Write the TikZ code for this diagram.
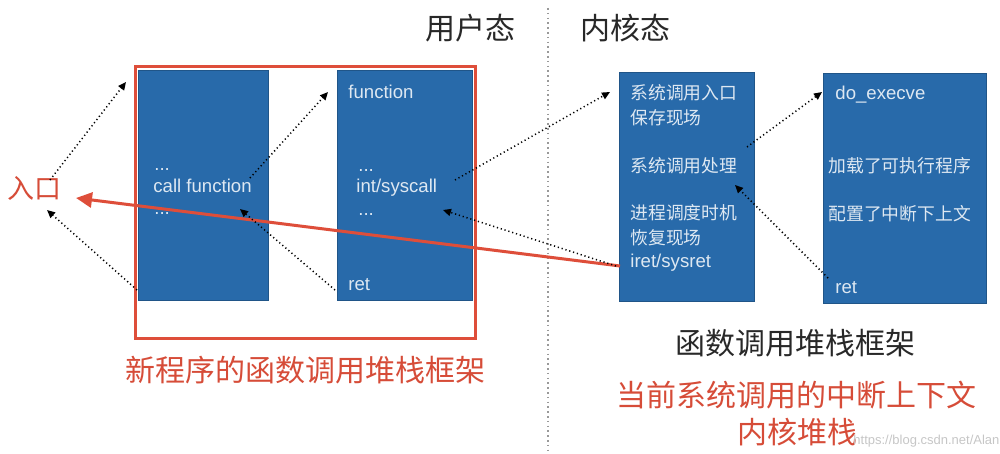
\documentclass[tikz,border=0pt]{standalone}
\usepackage{fontspec}
\setmainfont{Liberation Sans}
\newfontfamily\cjk{Noto Sans CJK SC}
\usetikzlibrary{arrows.meta}
\definecolor{boxblue}{RGB}{40,106,170}
\definecolor{boxtext}{RGB}{222,232,242}
\definecolor{redline}{RGB}{222,78,58}
\definecolor{redtext}{RGB}{214,76,56}
\definecolor{titletext}{RGB}{40,40,40}
\tikzset{
  stackbox/.style={fill=boxblue,draw=boxblue!80!black,line width=0.3pt,minimum width=#1,inner sep=0pt,outer sep=0pt},
  lat/.style={font=\fontsize{9.3}{11}\selectfont,text=boxtext,anchor=base west,inner sep=0pt},
  han/.style={font=\cjk\fontsize{8.9}{11}\selectfont,text=boxtext,anchor=west,inner sep=0pt},
  dotarrow/.style={draw=black,line width=0.75pt,dash pattern=on 0.6pt off 1.4pt,-{Triangle[length=4pt,width=3.6pt]}},
  bigarrow/.style={draw=redline,line width=1.5pt,-{Triangle[length=8pt,width=7.5pt]}},
  redframe/.style={draw=redline,line width=1.5pt},
  biglabel/.style={font=\cjk\fontsize{15}{18}\selectfont,inner sep=0pt},
}
\begin{document}
\begin{tikzpicture}[x=0.5pt,y=-0.5pt]
\useasboundingbox (0,0) rectangle (1000,454);
% divider
\coordinate (dtop) at (548,8);
\coordinate (dbot) at (548,454);
\draw[gray!80,line width=0.6pt,dash pattern=on 0.8pt off 1.6pt] (dtop) -- (dbot);
% titles
\node[biglabel,text=titletext] (user) at (470,28) {用户态};
\node[biglabel,text=titletext] (kern) at (625,28) {内核态};
% boxes
\node[stackbox=65pt,minimum height=115pt] (b1) at (203,185) {};
\node[stackbox=67.5pt,minimum height=115pt] (b2) at (404.5,185) {};
\node[stackbox=67.5pt,minimum height=114.5pt] (b3) at (686.5,186.5) {};
\node[stackbox=81.5pt,minimum height=115pt] (b4) at (904.5,188) {};
% box 1 text
\node[lat] (b1d1) at (154,171) {...};
\node[lat] (b1call) at (153,193) {call function};
\node[lat] (b1d2) at (154,214) {...};
% box 2 text
\node[lat] (b2fn) at (348,99) {function};
\node[lat] (b2d1) at (358,172) {...};
\node[lat] (b2sys) at (356,193) {int/syscall};
\node[lat] (b2d2) at (358,215) {...};
\node[lat] (b2ret) at (348,290) {ret};
% box 3 text
\node[han] (b3a) at (630,93) {系统调用入口};
\node[han] (b3b) at (630,118) {保存现场};
\node[han] (b3c) at (630,166) {系统调用处理};
\node[han] (b3d) at (630,213) {进程调度时机};
\node[han] (b3e) at (630,238) {恢复现场};
\node[lat] (b3f) at (630,267) {iret/sysret};
% box 4 text
\node[lat] (b4a) at (835,100) {do\_execve};
\node[han] (b4b) at (828,166) {加载了可执行程序};
\node[han] (b4c) at (828,214) {配置了中断下上文};
\node[lat] (b4d) at (835,293) {ret};
% entry label
\node[font=\cjk\fontsize{13.5}{16}\selectfont,text=redtext,inner sep=0pt] (entry) at (34,188) {入口};
% red frame
\coordinate (fa) at (135,67);
\coordinate (fb) at (475,338);
\draw[redframe] (fa) rectangle (fb);
% red arrow
\coordinate (rs) at (620,266);
\coordinate (re) at (76,198);
\draw[bigarrow] (rs) -- (re);
% dotted connectors
\coordinate (c1s) at (50,180); \coordinate (c1e) at (126,82);
\coordinate (c2s) at (137,290); \coordinate (c2e) at (47,210);
\coordinate (c3s) at (250,178); \coordinate (c3e) at (328,92);
\coordinate (c4s) at (335,290); \coordinate (c4e) at (240,209);
\coordinate (c5s) at (455,180); \coordinate (c5e) at (610,92);
\coordinate (c6s) at (616,266); \coordinate (c6e) at (443,210);
\coordinate (c7s) at (747,147); \coordinate (c7e) at (822,92);
\coordinate (c8s) at (828,278); \coordinate (c8e) at (735,185);
\draw[dotarrow] (c1s) -- (c1e);
\draw[dotarrow] (c2s) -- (c2e);
\draw[dotarrow] (c3s) -- (c3e);
\draw[dotarrow] (c4s) -- (c4e);
\draw[dotarrow] (c5s) -- (c5e);
\draw[dotarrow] (c6s) -- (c6e);
\draw[dotarrow] (c7s) -- (c7e);
\draw[dotarrow] (c8s) -- (c8e);
% bottom labels
\node[biglabel,text=redtext] (newstack) at (305,370) {新程序的函数调用堆栈框架};
\node[biglabel,text=titletext] (fnstack) at (795,343) {函数调用堆栈框架};
\node[biglabel,text=redtext] (ctx) at (796,395) {当前系统调用的中断上下文};
\node[biglabel,text=redtext] (kstack) at (797,432) {内核堆栈};
\node[font=\fontsize{6.5}{8}\selectfont,text=gray!45,anchor=west,inner sep=0pt] (wm) at (853,441) {https://blog.csdn.net/Alan};
\end{tikzpicture}
\end{document}
